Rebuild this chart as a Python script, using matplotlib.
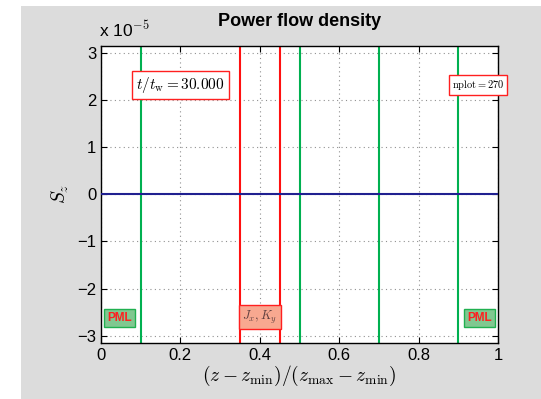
import numpy as np
import matplotlib.pyplot as plt
from matplotlib.patches import Rectangle

plt.rcParams['font.family'] = ['Liberation Sans', 'DejaVu Sans']
plt.rcParams['mathtext.fontset'] = 'cm'

# data (S_z in units of 1e-5)
z = [0.0, 1.0]
s_z = [0.0, 0.0]
green_lines = [0.1, 0.5, 0.7, 0.9]
red_lines = [0.35, 0.45]
t_ratio = 30.0
nplot = 270
x_ticks = [0, 0.2, 0.4, 0.6, 0.8, 1]
x_ticklabels = ['0', '0.2', '0.4', '0.6', '0.8', '1']
y_ticks = [-3, -2, -1, 0, 1, 2, 3]

fig = plt.figure(figsize=(5.41, 3.99), dpi=100)
fig.patch.set_facecolor('white')
fig.patches.append(Rectangle((21 / 541, 0), 1, 1 - 6 / 399, transform=fig.transFigure,
                             facecolor='#dcdcdc', edgecolor='none', zorder=-10))

ax = fig.add_axes([101 / 541, (399 - 343) / 399, 397 / 541, 297.5 / 399])
ax.set_facecolor('white')

for x in green_lines:
    ax.axvline(x, color='#00b050', lw=1.5, zorder=2)
for x in red_lines:
    ax.axvline(x, color='#ff1010', lw=1.5, zorder=2)
ax.plot(z, s_z, color='#202090', lw=1.5, zorder=3)

ax.set_xlim(0, 1)
ax.set_ylim(-3.15, 3.15)
ax.set_xticks(x_ticks)
ax.set_xticklabels(x_ticklabels)
ax.set_yticks(y_ticks)
ax.set_yticklabels([f'{v:d}' if v >= 0 else '\u2212' + str(-v) for v in y_ticks])
ax.grid(True, linestyle=(0, (1, 3)), color='#909090', lw=0.8)
ax.tick_params(direction='in', top=True, right=True, labelsize=12, length=4, width=0.8)
for sp in ax.spines.values():
    sp.set_linewidth(1.0)

ax.set_title('Power flow density', fontsize=13, fontweight='bold', pad=14)
ax.text(-0.005, 1.02, 'x 10$^{\\mathsf{-5}}$', transform=ax.transAxes, fontsize=12.5,
        ha='left', va='bottom')
ax.set_xlabel('$(z - z_{\\min})/(z_{\\max} - z_{\\min})$', fontsize=14, labelpad=1)
ax.set_ylabel('$S_z$', fontsize=14, labelpad=4)

ax.text(0.2, 2.32, '$t/t_\\mathrm{w} = %.3f$' % t_ratio, ha='center', va='center',
        fontsize=11, bbox=dict(facecolor='white', edgecolor='#ff2020', lw=1, pad=3))
ax.text(0.95, 2.32, '$\\mathrm{nplot} = %d$' % nplot, ha='center', va='center',
        fontsize=7.5, bbox=dict(facecolor='white', edgecolor='#ff2020', lw=1, pad=2))

pml_box = dict(facecolor='#80c890', edgecolor='#20b050', lw=1, pad=2.5)
ax.text(0.047, -2.62, 'PML', ha='center', va='center', fontsize=8.5, fontweight='bold',
        color='#ff2020', bbox=pml_box)
ax.text(0.953, -2.62, 'PML', ha='center', va='center', fontsize=8.5, fontweight='bold',
        color='#ff2020', bbox=pml_box)
ax.text(0.40, -2.60, '$J_x, K_y$', ha='center', va='center', fontsize=9, color='#604040',
        bbox=dict(facecolor='#f8a890', edgecolor='#ff2020', lw=1, pad=2.5))

fig.savefig('out.png', dpi=100, facecolor=fig.get_facecolor())
